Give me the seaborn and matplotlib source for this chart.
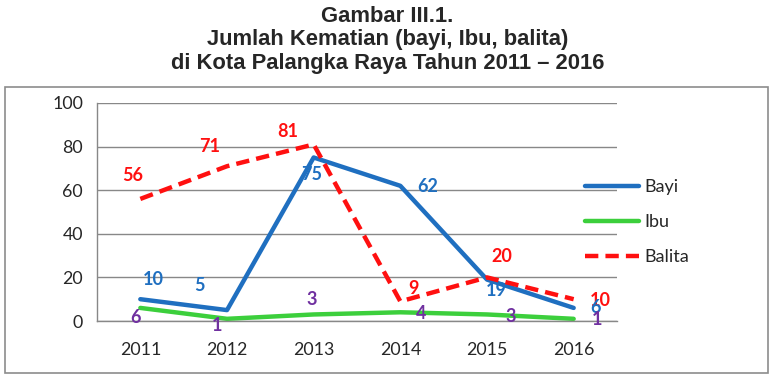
import matplotlib
matplotlib.use("Agg")
import matplotlib.pyplot as plt
import seaborn as sns
import numpy as np
from matplotlib.patches import Rectangle

years = ["2011", "2012", "2013", "2014", "2015", "2016"]
bayi = [10, 5, 75, 62, 19, 6]
ibu = [6, 1, 3, 4, 3, 1]
balita = [56, 71, 81, 9, 20, 10]
yticks = [0, 20, 40, 60, 80, 100]
title_lines = ["Gambar III.1.", "Jumlah Kematian (bayi, Ibu, balita)", "di Kota Palangka Raya Tahun 2011 \u2013 2016"]

sns.set_style("white")
plt.rcParams['font.family'] = ['Lato', 'DejaVu Sans']

fig = plt.figure(figsize=(7.75, 3.82), dpi=100)
ax = fig.add_axes([97/775, 1-321/382, (617-97)/775, (321-103)/382])

c_blue = "#1f6fc0"
c_green = "#3ccf3c"
c_red = "#ff1010"
c_purple = "#7030a0"

x = np.arange(len(years))
sns.lineplot(x=x, y=bayi, ax=ax, color=c_blue, lw=3.2, label="Bayi")
sns.lineplot(x=x, y=ibu, ax=ax, color=c_green, lw=3.2, label="Ibu")
sns.lineplot(x=x, y=balita, ax=ax, color=c_red, lw=3.2, linestyle=(0, (3, 1.6)), label="Balita")

ax.set_xlim(-0.5, len(years) - 0.5)
ax.set_ylim(0, 100)
ax.set_yticks(yticks)
ax.set_yticklabels([str(t) for t in yticks], fontsize=12.8)
ax.set_xticks(x)
ax.set_xticklabels(years, fontsize=12.8)
ax.set_xticks(np.arange(-0.5, len(years), 1.0), minor=True)
ax.tick_params(axis='x', which='major', length=0, pad=15)
ax.tick_params(axis='x', which='minor', length=6, width=1, color="#888888", direction='out')
ax.tick_params(axis='y', which='major', length=6, width=1, color="#888888", direction='out', pad=4)
ax.grid(axis='y', color="#888888", lw=1)
ax.set_axisbelow(True)
for s in ["top", "right"]:
    ax.spines[s].set_visible(False)
for s in ["left", "bottom"]:
    ax.spines[s].set_color("#888888")
    ax.spines[s].set_linewidth(1)

def px(dx, dy):
    return (dx * 0.72, dy * 0.72)

off_balita = [(-8, 23), (-17, 20), (-26, 13), (13, 13), (15, 21), (27, -1)]
off_bayi = [(13, 20), (-28, 25), (-2, -17), (27, -1), (9, -11), (22, 0)]
off_ibu = [(-5, -10), (-10, -7), (-2, 15), (21, -1), (24, -2), (23, -1)]

for vals, offs, col in [(balita, off_balita, c_red), (bayi, off_bayi, c_blue), (ibu, off_ibu, c_purple)]:
    for i, (v, o) in enumerate(zip(vals, offs)):
        ax.annotate(str(v), xy=(i, v), xytext=px(*o), textcoords='offset points',
                    ha='center', va='center', color=col, fontsize=13, fontweight='bold')

leg = ax.legend(loc='center left', bbox_to_anchor=(585/775, 1-222/382), bbox_transform=fig.transFigure,
                frameon=False, fontsize=13, handlelength=3.0, handletextpad=0.3,
                labelspacing=1.05, borderpad=0, borderaxespad=0)

fig.patches.append(Rectangle((5/775, 1-373/382), (768-5)/775, (373-87)/382, transform=fig.transFigure,
                             fill=False, edgecolor="#8c8c8c", lw=1.2))

for i, (t, yp) in enumerate(zip(title_lines, [16, 40, 64])):
    fig.text(0.5, 1 - yp/382, t, ha='center', va='center', fontsize=15.8, fontweight='bold',
             family=['Liberation Sans', 'DejaVu Sans'])

fig.savefig("out.png", dpi=100)
